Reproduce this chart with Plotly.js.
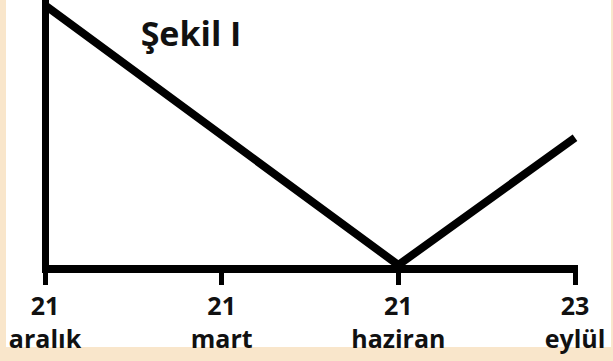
<!DOCTYPE html>
<html>
<head>
<meta charset="utf-8">
<script src="https://cdn.plot.ly/plotly-3.0.1.min.js"></script>
<style>
  html, body { margin: 0; padding: 0; background: #f9e6cb; }
  #chart { width: 613px; height: 361px; }
</style>
</head>
<body>
<div id="chart"></div>
<script>
// Data
const tickDays   = ['21', '21', '21', '23'];
const tickMonths = ['aralık', 'mart', 'haziran', 'eylül'];
const xPos       = [0, 1, 2, 3];
const values     = [98, 49, 0, 48];
const chartTitle = 'Şekil I';

const tickText = tickDays.map((d, i) => d + '<br>' + tickMonths[i]);

const trace = {
  x: xPos,
  y: values,
  type: 'scatter',
  mode: 'lines',
  line: { color: '#000000', width: 8 },
  hoverinfo: 'skip'
};

const layout = {
  width: 613,
  height: 361,
  margin: { l: 42, r: 35, t: 0, b: 96 },
  paper_bgcolor: '#f9e6cb',
  plot_bgcolor: 'rgba(0,0,0,0)',
  showlegend: false,
  title: {
    text: chartTitle,
    font: { family: 'Open Sans, sans-serif', size: 34, color: '#111111', weight: 'bold' },
    x: 191 / 613, xanchor: 'center',
    y: 1 - 34 / 361, yanchor: 'middle', yref: 'container'
  },
  xaxis: {
    range: [-0.017, 3.017],
    tickmode: 'array',
    tickvals: xPos,
    ticktext: tickText,
    ticks: 'outside',
    ticklen: 12,
    tickwidth: 5,
    tickcolor: '#000000',
    showline: true,
    linewidth: 8,
    linecolor: '#000000',
    showgrid: false,
    zeroline: true,
    zerolinewidth: 7,
    zerolinecolor: '#000000',
    tickfont: { family: 'Open Sans, sans-serif', size: 25, color: '#111111', weight: 'bold' },
    fixedrange: true
  },
  yaxis: {
    range: [0, 100],
    showline: false,
    showgrid: false,
    zeroline: false,
    showticklabels: false,
    ticks: '',
    fixedrange: true
  },
  shapes: [{
    type: 'rect', xref: 'paper', yref: 'paper',
    x0: (6 - 42) / 536, x1: (611 - 42) / 536,
    y0: (265 - 347) / 265, y1: 1.01,
    fillcolor: '#ffffff', line: { width: 0 }, layer: 'below'
  }]
};

Plotly.newPlot('chart', [trace], layout, { displayModeBar: false, staticPlot: true });
</script>
</body>
</html>
